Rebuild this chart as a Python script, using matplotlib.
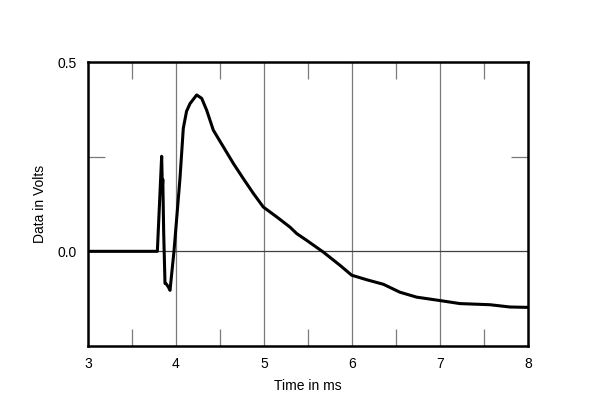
import matplotlib
matplotlib.use("Agg")
import matplotlib.pyplot as plt
from matplotlib.ticker import FixedLocator

plt.rcParams['font.family'] = ['Liberation Sans', 'DejaVu Sans']

time_ms = [3.0, 3.5, 3.788, 3.837, 3.845, 3.850, 3.860, 3.875, 3.886, 3.913, 3.932,
           3.977, 4.045, 4.083, 4.12, 4.159, 4.235, 4.292, 4.348, 4.424, 4.538,
           4.652, 4.765, 4.879, 4.992, 5.144, 5.295, 5.371, 5.485, 5.674, 5.864,
           5.996, 6.167, 6.356, 6.545, 6.735, 7.0, 7.227, 7.568, 7.795, 8.0]
volts = [0.0, 0.0, 0.0, 0.251, 0.17, 0.19, 0.05, -0.085, -0.085, -0.094, -0.103,
         0.0, 0.192, 0.325, 0.37, 0.39, 0.413, 0.404, 0.373, 0.32, 0.276,
         0.232, 0.192, 0.153, 0.117, 0.091, 0.064, 0.047, 0.029, -0.002, -0.037,
         -0.063, -0.075, -0.087, -0.108, -0.121, -0.13, -0.138, -0.141, -0.147, -0.148]

x_ticks = [3, 4, 5, 6, 7, 8]
x_tick_labels = ['3', '4', '5', '6', '7', '8']
y_ticks = [0.0, 0.5]
y_tick_labels = ['0.0', '0.5']

fig = plt.figure(figsize=(6, 4.13), dpi=100)
ax = fig.add_axes([88/600, 1-346/413, 440/600, 284/413])

for xv in [4, 5, 6, 7]:
    ax.axvline(xv, color='#7a7a7a', lw=0.9, zorder=1)
ax.axhline(0.0, color='#404040', lw=0.9, zorder=1)

ax.plot(time_ms, volts, color='black', lw=2.2, zorder=3,
        solid_joinstyle='round', solid_capstyle='round')

ax.set_xlim(3, 8)
ax.set_ylim(-0.25, 0.5)
ax.set_xticks(x_ticks)
ax.set_xticklabels(x_tick_labels)
ax.set_yticks(y_ticks)
ax.set_yticklabels(y_tick_labels)
ax.tick_params(axis='both', which='major', length=0, labelsize=10, pad=8)
ax.xaxis.set_minor_locator(FixedLocator([3.5, 4.5, 5.5, 6.5, 7.5]))
ax.yaxis.set_minor_locator(FixedLocator([0.25]))
ax.tick_params(axis='both', which='minor', direction='in', length=12, width=0.9,
               color='#7a7a7a', top=True, right=True)

for s in ax.spines.values():
    s.set_linewidth(1.8)
    s.set_color('black')

ax.set_xlabel('Time in ms', fontsize=10, labelpad=6)
ax.set_ylabel('Data in Volts', fontsize=10, labelpad=8)

fig.savefig('out.png', dpi=100)
